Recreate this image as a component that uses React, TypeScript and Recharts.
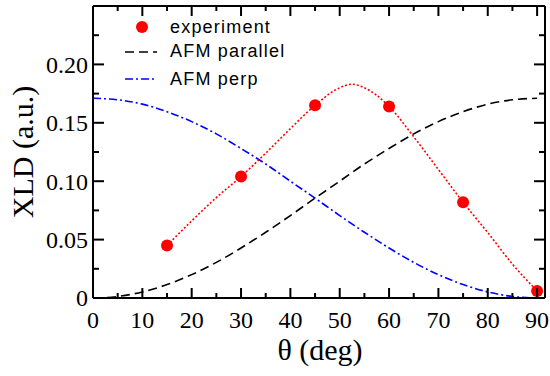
import React from "react";
import { ComposedChart, Line, XAxis, YAxis } from "recharts";

// measured points
const expTheta = [15, 30, 45, 60, 75, 90];
const expXld = [0.045, 0.104, 0.165, 0.164, 0.082, 0.006];

// red fit curve
const fitTheta = [15, 20, 25, 30, 35, 40, 45, 50, 52.5, 55, 60, 65, 70, 75, 80, 85, 90];
const fitXld = [0.045, 0.066, 0.086, 0.104, 0.124, 0.145, 0.165, 0.18, 0.183, 0.18, 0.164, 0.138, 0.11, 0.082, 0.056, 0.029, 0.006];

// model curves
const modelTheta = [0, 5, 10, 15, 20, 25, 30, 35, 40, 45, 50, 55, 60, 65, 70, 75, 80, 85, 90];
const parallelXld = [0, 0.0013, 0.0052, 0.0115, 0.02, 0.0305, 0.0428, 0.0563, 0.0706, 0.0855, 0.1, 0.1147, 0.128, 0.1405, 0.151, 0.1595, 0.166, 0.1697, 0.171];
const perpXld = [0.171, 0.1697, 0.166, 0.1595, 0.151, 0.1405, 0.128, 0.1147, 0.1, 0.0855, 0.0706, 0.0563, 0.0428, 0.0305, 0.02, 0.0115, 0.0052, 0.0013, 0];

const xTicks = [0, 5, 10, 15, 20, 25, 30, 35, 40, 45, 50, 55, 60, 65, 70, 75, 80, 85, 90];
const yTicks = [0, 0.025, 0.05, 0.075, 0.1, 0.125, 0.15, 0.175, 0.2, 0.225];

const expData = expTheta.map((t, i) => ({ theta: t, xld: expXld[i] }));
const fitData = fitTheta.map((t, i) => ({ theta: t, xld: fitXld[i] }));
const parallelData = modelTheta.map((t, i) => ({ theta: t, xld: parallelXld[i] }));
const perpData = modelTheta.map((t, i) => ({ theta: t, xld: perpXld[i] }));

const serif = '"Liberation Serif", "Times New Roman", serif';
const sans = '"Liberation Sans", Arial, sans-serif';

const isMajorX = (v: number) => v % 10 === 0;
const isMajorY = (v: number) => Math.round(v * 1000) % 50 === 0;

const BottomTick = ({ x, y, payload }: any) => {
  const major = isMajorX(payload.value);
  return (
    <g>
      <line x1={x} x2={x} y1={y} y2={y - (major ? 10 : 5)} stroke="#000" strokeWidth={2} />
      {major && (
        <text x={x} y={y + 30} textAnchor="middle" style={{ fontFamily: serif }} fontSize={24} fill="#000">
          {payload.value}
        </text>
      )}
    </g>
  );
};

const TopTick = ({ x, y, payload }: any) => {
  const major = isMajorX(payload.value);
  return <line x1={x} x2={x} y1={y} y2={y + (major ? 10 : 5)} stroke="#000" strokeWidth={2} />;
};

const LeftTick = ({ x, y, payload }: any) => {
  const v = payload.value;
  const major = isMajorY(v);
  return (
    <g>
      <line x1={x} x2={x + (major ? 11 : 6)} y1={y} y2={y} stroke="#000" strokeWidth={2} />
      {major && (
        <text x={x - 5} y={y} dy="0.35em" textAnchor="end" style={{ fontFamily: serif }} fontSize={24} fill="#000">
          {v === 0 ? "0" : v.toFixed(2)}
        </text>
      )}
    </g>
  );
};

const RightTick = ({ x, y, payload }: any) => {
  const major = isMajorY(payload.value);
  return <line x1={x} x2={x - (major ? 11 : 6)} y1={y} y2={y} stroke="#000" strokeWidth={2} />;
};

export default function App() {
  return (
    <div style={{ position: "absolute", left: 0, top: 0, width: 550, height: 376, background: "#fff" }}>
      <ComposedChart width={550} height={376} margin={{ top: 5, right: 4, bottom: 77, left: 92 }}>
        <XAxis
          xAxisId="bottom"
          dataKey="theta"
          type="number"
          domain={[0, 91.6]}
          ticks={xTicks}
          interval={0}
          height={1}
          tickSize={0}
          tickMargin={0}
          tick={<BottomTick />}
          axisLine={{ stroke: "#000", strokeWidth: 2 }}
          allowDataOverflow
        />
        <XAxis
          xAxisId="top"
          orientation="top"
          dataKey="theta"
          type="number"
          domain={[0, 91.6]}
          ticks={xTicks}
          interval={0}
          height={1}
          tickSize={0}
          tickMargin={0}
          tick={<TopTick />}
          axisLine={{ stroke: "#000", strokeWidth: 2 }}
          allowDataOverflow
        />
        <YAxis
          yAxisId="left"
          type="number"
          domain={[0, 0.25]}
          ticks={yTicks}
          interval={0}
          width={1}
          tickSize={0}
          tickMargin={0}
          tick={<LeftTick />}
          axisLine={{ stroke: "#000", strokeWidth: 2 }}
          allowDataOverflow
        />
        <YAxis
          yAxisId="right"
          orientation="right"
          type="number"
          domain={[0, 0.25]}
          ticks={yTicks}
          interval={0}
          width={1}
          tickSize={0}
          tickMargin={0}
          tick={<RightTick />}
          axisLine={{ stroke: "#000", strokeWidth: 2 }}
          allowDataOverflow
        />
        <Line
          xAxisId="bottom"
          yAxisId="left"
          data={parallelData}
          dataKey="xld"
          type="monotone"
          stroke="#000"
          strokeWidth={1.6}
          strokeDasharray="9 5"
          dot={false}
          isAnimationActive={false}
        />
        <Line
          xAxisId="bottom"
          yAxisId="left"
          data={perpData}
          dataKey="xld"
          type="monotone"
          stroke="#0000ff"
          strokeWidth={1.6}
          strokeDasharray="8 3 2 3"
          dot={false}
          isAnimationActive={false}
        />
        <Line
          xAxisId="bottom"
          yAxisId="left"
          data={fitData}
          dataKey="xld"
          type="monotone"
          stroke="#ff0000"
          strokeWidth={1.6}
          strokeDasharray="2 2"
          dot={false}
          isAnimationActive={false}
        />
        <Line
          xAxisId="bottom"
          yAxisId="left"
          data={expData}
          dataKey="xld"
          stroke="none"
          dot={{ r: 6, fill: "#ff0000", stroke: "none" }}
          isAnimationActive={false}
        />
      </ComposedChart>

      {/* legend + axis titles */}
      <svg width={550} height={376} style={{ position: "absolute", left: 0, top: 0, pointerEvents: "none" }}>
        <circle cx={142} cy={27} r={6} fill="#ff0000" />
        <text x={170} y={33} style={{ fontFamily: sans }} fontSize={18} letterSpacing={1.2} fill="#000">experiment</text>
        <line x1={125} x2={157} y1={52} y2={52} stroke="#000" strokeWidth={1.6} strokeDasharray="9 5" />
        <text x={170} y={57} style={{ fontFamily: sans }} fontSize={18} letterSpacing={1.2} fill="#000">AFM parallel</text>
        <line x1={125} x2={157} y1={79} y2={79} stroke="#0000ff" strokeWidth={1.6} strokeDasharray="8 3 2 3" />
        <text x={170} y={85} style={{ fontFamily: sans }} fontSize={18} letterSpacing={1.2} fill="#000">AFM perp</text>

        <text x={33} y={152} transform="rotate(-90, 33, 152)" textAnchor="middle" style={{ fontFamily: serif }} fontSize={30} fill="#000">
          XLD (a.u.)
        </text>
        <text x={320} y={360} textAnchor="middle" style={{ fontFamily: serif }} fontSize={30} fill="#000">
          θ (deg)
        </text>
      </svg>
    </div>
  );
}
